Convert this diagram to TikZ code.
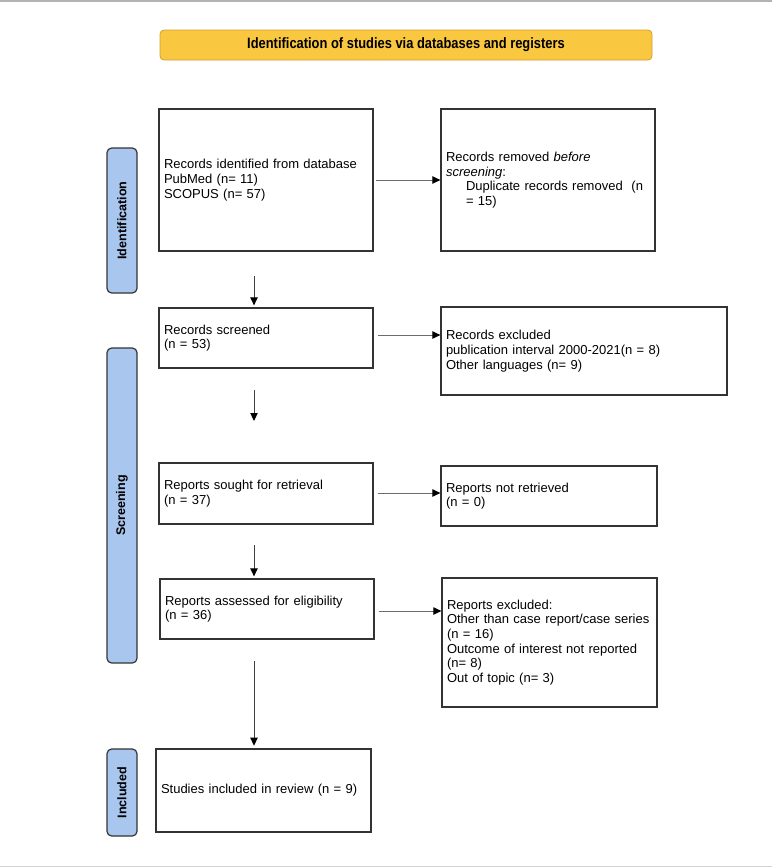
\documentclass[tikz,border=0pt]{standalone}
\usepackage{fontspec}
\setmainfont{Liberation Sans}
\newfontfamily\hdrfont[FakeStretch=0.86]{Liberation Sans}
\usetikzlibrary{arrows.meta,calc}
\definecolor{hdrfill}{HTML}{F9C740}
\definecolor{hdrdraw}{HTML}{CFA02E}
\definecolor{barfill}{HTML}{A9C6EE}
\definecolor{boxline}{HTML}{333333}
\tikzset{
  box/.style={draw=boxline, line width=0.9pt, fill=white, align=left,
    inner xsep=3.75pt, inner ysep=2pt, anchor=center,
    font=\fontsize{9.75}{11}\selectfont},
  sidebar/.style={draw=boxline, line width=0.9pt, fill=barfill, rounded corners=3.5pt,
    rotate=90, minimum height=22.5pt, inner sep=0pt,
    font=\fontsize{9.4}{11}\selectfont\bfseries},
  hdr/.style={draw=hdrdraw, line width=0.6pt, fill=hdrfill, rounded corners=3pt,
    minimum width=369pt, minimum height=22.5pt, inner sep=0pt,
    font=\hdrfont\fontsize{11.25}{13}\selectfont\bfseries},
  harr/.style={draw=gray!85!black, line width=0.75pt,
    -{Triangle[length=6pt,width=5.5pt,color=black]}},
  varr/.style={draw=black!75, line width=0.75pt,
    -{Triangle[length=6pt,width=5.5pt,color=black]}}
}
\begin{document}
\begin{tikzpicture}[x=0.75pt,y=-0.75pt]
\useasboundingbox (0,0) rectangle (772,868);
% frame lines
\draw[gray!60, line width=1.2pt] (0,1) -- (772,1);
\draw[gray!35, line width=1.2pt] (0,866.5) -- (772,866.5);

% header
\node[hdr] (hdr) at (406,45) {Identification of studies via databases and registers};

% side bars
\node[sidebar, minimum width=108.75pt] (idbar) at (122,220.5) {Identification};
\node[sidebar, minimum width=236.25pt] (scbar) at (122,505.5) {Screening};
\node[sidebar, minimum width=65.25pt] (inbar) at (122,792.5) {Included};

% boxes
\node[box, text width=153pt, minimum height=106.5pt] (b1) at (266,180)
  {Records identified from database\\PubMed (n= 11)\\SCOPUS (n= 57)};
\node[box, text width=153pt, minimum height=106.5pt] (b2) at (548,180)
  {Records removed \textit{before}\\\textit{screening}:\\\hspace*{15pt}Duplicate records removed\ \ (n\\\hspace*{15pt}= 15)};
\node[box, text width=153pt, minimum height=45pt] (b3) at (266,338)
  {Records screened\\(n = 53)};
\node[box, text width=207pt, minimum height=66pt] (b4) at (584,351)
  {Records excluded\\publication interval 2000-2021(n = 8)\\Other languages (n= 9)};
\node[box, text width=153pt, minimum height=45.75pt] (b5) at (266,493.5)
  {Reports sought for retrieval\\(n = 37)};
\node[box, text width=154.5pt, minimum height=45pt] (b6) at (549,496)
  {Reports not retrieved\\(n = 0)};
\node[box, text width=153pt, minimum height=45pt] (b7) at (267,609)
  {Reports assessed for eligibility\\(n = 36)};
\node[box, text width=153.75pt, minimum height=96.75pt] (b8) at (549.5,642.5)
  {Reports excluded:\\Other than case report/case series\\(n = 16)\\Outcome of interest not reported\\(n= 8)\\Out of topic (n= 3)};
\node[box, text width=153.75pt, minimum height=62.25pt] (b9) at (263.5,790.5)
  {Studies included in review (n = 9)};

% horizontal arrows
\draw[harr, shorten <=1.5pt] (b1.east) -- (b2.west);
\draw[harr, shorten <=3pt] (b3.east |- 0,335) -- (b4.west |- 0,335);
\draw[harr, shorten <=3pt] (b5.east |- 0,493) -- (b6.west |- 0,493);
\draw[harr, shorten <=3pt] (b7.east |- 0,611) -- (b8.west |- 0,611);

% vertical arrows
\coordinate (v1s) at (254,276);
\coordinate (v2s) at (254,390);
\coordinate (v2e) at (254,421);
\coordinate (v3s) at (254,545);
\coordinate (v4s) at (254,661);
\draw[varr, shorten >=1.5pt] (v1s) -- (v1s |- b3.north);
\draw[varr] (v2s) -- (v2e);
\draw[varr, shorten >=1.5pt] (v3s) -- (v3s |- b7.north);
\draw[varr, shorten >=2pt] (v4s) -- (v4s |- b9.north);
\end{tikzpicture}
\end{document}
